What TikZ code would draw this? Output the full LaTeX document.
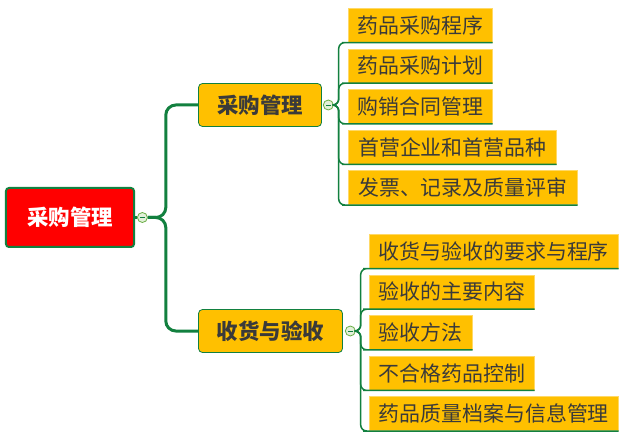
\documentclass[tikz,border=0pt]{standalone}
\usepackage{fontspec}
\usepackage{xcolor}
\usepackage{tikz}
\usetikzlibrary{positioning}
\newfontfamily\cjk{Noto Sans CJK SC}
\definecolor{gold}{HTML}{FFC000}
\definecolor{mmgreen}{HTML}{12803F}
\definecolor{leafedge}{HTML}{FFD966}
\definecolor{dotfill}{HTML}{E2F0D9}
\definecolor{dotedge}{HTML}{6AAE45}
\definecolor{inkgray}{HTML}{3A3A3A}
\newcommand{\leafFont}{\cjk\fontsize{21}{24}\selectfont}

\begin{document}
\begin{tikzpicture}[x=1bp, y=-1bp,
    leaf/.style={draw=leafedge, line width=0.6bp, fill=gold, inner sep=0pt,
                 minimum height=34bp, font=\leafFont, text=inkgray},
    branch/.style={draw=mmgreen, line width=0.8bp, fill=gold, rounded corners=4bp,
                   minimum height=43bp, font=\cjk\bfseries\fontsize{21.5}{24}\selectfont,
                   text=inkgray},
    fold/.style={circle, draw=dotedge, fill=dotfill, line width=0.8bp,
                 minimum size=10bp, inner sep=0pt,
                 path picture={\draw[mmgreen, line width=0.8bp]
                   ([xshift=-2.5bp]path picture bounding box.center) --
                   ([xshift=2.5bp]path picture bounding box.center);}},
    trunk/.style={draw=mmgreen, line width=3bp, rounded corners=10bp},
    twig/.style={draw=mmgreen, line width=1.5bp, rounded corners=6bp}]
  \fill[white] (0,0) rectangle (640,438);
  \useasboundingbox (0,0) rectangle (640,438);

  % root
  \node[draw=mmgreen, line width=2bp, fill=red, rounded corners=3bp,
        minimum width=128bp, minimum height=59bp,
        font=\cjk\bfseries\fontsize{21.5}{24}\selectfont, text=white] (root)
    at (70,217.5) {采购管理};
  \node[fold, right=2bp of root] (rootdot) {};

  % main branches
  \node[branch, minimum width=123bp] (pur) at (260,105) {采购管理};
  \node[fold, right=1bp of pur] (purdot) {};
  \node[branch, minimum width=144bp] (rec) at (270.5,331) {收货与验收};
  \node[fold, right=2bp of rec] (recdot) {};

  % purchase leaves
  \node[leaf, minimum width=144bp, anchor=north west] (p1) at (348,8) {药品采购程序};
  \node[leaf, minimum width=144bp, below=6bp of p1.south west, anchor=north west] (p2) {药品采购计划};
  \node[leaf, minimum width=144bp, below=6bp of p2.south west, anchor=north west] (p3) {购销合同管理};
  \node[leaf, minimum width=208bp, below=6bp of p3.south west, anchor=north west] (p4) {首营企业和首营品种};
  \node[leaf, minimum width=229bp, below=6bp of p4.south west, anchor=north west] (p5) {发票、记录及质量评审};

  % receiving leaves
  \node[leaf, minimum width=249bp, anchor=north west] (r1) at (369,234) {收货与验收的要求与程序};
  \node[leaf, minimum width=165bp, below=6bp of r1.south west, anchor=north west] (r2) {验收的主要内容};
  \node[leaf, minimum width=103bp, below=6bp of r2.south west, anchor=north west] (r3) {验收方法};
  \node[leaf, minimum width=165bp, below=6bp of r3.south west, anchor=north west] (r4) {不合格药品控制};
  \node[leaf, minimum width=249bp, below=6bp of r4.south west, anchor=north west] (r5) {药品质量档案与信息管理};

  % connectors
  \draw[mmgreen, line width=3bp] (root.east) -- (rootdot.west);
  \draw[trunk] (rootdot.east) -- ++(18bp,0) |- (pur.west);
  \draw[trunk] (rootdot.east) -- ++(18bp,0) |- (rec.west);
  \foreach \n in {p1,p2,p3,p4,p5}
    \draw[twig] (purdot.east) -- ++(5bp,0) |- (\n.south west) -- (\n.south east);
  \foreach \n in {r1,r2,r3,r4,r5}
    \draw[twig] (recdot.east) -- ++(5bp,0) |- (\n.south west) -- (\n.south east);
\end{tikzpicture}
\end{document}
